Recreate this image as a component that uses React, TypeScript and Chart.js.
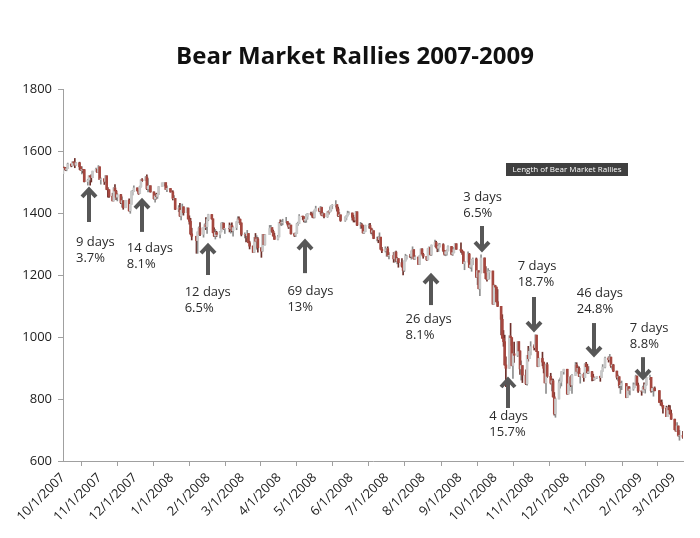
import React, { useEffect, useRef } from "react";
import { Chart, registerables } from "chart.js";
Chart.register(...registerables);

// ---- axis / category data ----
const startDate = "2007-10-01";
const endDate = "2009-03-09";
const tickDates = [
  "2007-10-01", "2007-11-01", "2007-12-01", "2008-01-01", "2008-02-01", "2008-03-01",
  "2008-04-01", "2008-05-01", "2008-06-01", "2008-07-01", "2008-08-01", "2008-09-01",
  "2008-10-01", "2008-11-01", "2008-12-01", "2009-01-01", "2009-02-01", "2009-03-01",
];
const tickLabels = [
  "10/1/2007", "11/1/2007", "12/1/2007", "1/1/2008", "2/1/2008", "3/1/2008",
  "4/1/2008", "5/1/2008", "6/1/2008", "7/1/2008", "8/1/2008", "9/1/2008",
  "10/1/2008", "11/1/2008", "12/1/2008", "1/1/2009", "2/1/2009", "3/1/2009",
];
const yTicks = [600, 800, 1000, 1200, 1400, 1600, 1800];
const holidays = [
  "2007-11-22", "2007-12-25", "2008-01-01", "2008-01-21", "2008-02-18", "2008-03-21",
  "2008-05-26", "2008-07-04", "2008-09-01", "2008-11-27", "2008-12-25", "2009-01-01",
  "2009-01-19", "2009-02-16",
];
const months = [
  "2007-10", "2007-11", "2007-12", "2008-01", "2008-02", "2008-03", "2008-04", "2008-05", "2008-06",
  "2008-07", "2008-08", "2008-09", "2008-10", "2008-11", "2008-12", "2009-01", "2009-02", "2009-03",
];

// ---- daily candles [open, high, low, close], one entry per trading day ----
const oct07 = [
  [1527, 1549, 1527, 1547], [1547, 1548, 1541, 1546], [1546, 1547, 1537, 1540], [1540, 1545, 1536, 1543],
  [1543, 1561, 1543, 1558], [1558, 1558, 1549, 1553], [1553, 1565, 1551, 1565], [1565, 1565, 1555, 1562],
  [1562, 1576, 1546, 1554], [1554, 1563, 1554, 1562], [1562, 1564, 1540, 1549], [1549, 1549, 1537, 1538],
  [1538, 1550, 1526, 1541], [1541, 1541, 1530, 1540], [1540, 1540, 1500, 1501], [1501, 1509, 1490, 1506],
  [1506, 1520, 1504, 1520], [1520, 1520, 1490, 1516], [1516, 1524, 1500, 1514], [1514, 1535, 1514, 1535],
  [1535, 1545, 1535, 1541], [1541, 1541, 1531, 1531], [1531, 1553, 1531, 1549],
];
const nov07 = [
  [1549, 1549, 1508, 1508], [1508, 1513, 1493, 1510], [1510, 1511, 1492, 1502], [1502, 1521, 1499, 1520],
  [1520, 1520, 1475, 1476], [1476, 1482, 1451, 1475], [1475, 1475, 1450, 1454], [1454, 1464, 1439, 1439],
  [1439, 1482, 1439, 1481], [1481, 1492, 1466, 1471], [1471, 1473, 1443, 1451], [1451, 1462, 1439, 1459],
  [1459, 1460, 1430, 1433], [1433, 1452, 1419, 1440], [1440, 1440, 1412, 1417], [1417, 1441, 1417, 1441],
  [1441, 1446, 1406, 1407], [1407, 1429, 1399, 1428], [1428, 1471, 1428, 1469], [1469, 1473, 1458, 1470],
  [1470, 1488, 1470, 1481],
];
const dec07 = [
  [1481, 1481, 1470, 1472], [1472, 1472, 1460, 1463], [1463, 1487, 1463, 1485], [1485, 1508, 1483, 1507],
  [1507, 1511, 1501, 1505], [1505, 1518, 1505, 1516], [1516, 1523, 1475, 1478], [1478, 1511, 1468, 1487],
  [1487, 1489, 1469, 1488], [1488, 1488, 1467, 1468], [1468, 1468, 1445, 1446], [1446, 1461, 1435, 1455],
  [1455, 1464, 1445, 1453], [1453, 1461, 1447, 1460], [1460, 1485, 1460, 1485], [1485, 1497, 1485, 1497],
  [1497, 1499, 1487, 1498], [1498, 1498, 1476, 1476], [1476, 1488, 1469, 1479], [1479, 1479, 1467, 1468],
];
const jan08 = [
  [1468, 1472, 1442, 1447], [1447, 1456, 1443, 1447], [1447, 1447, 1411, 1412], [1412, 1424, 1404, 1416],
  [1416, 1431, 1389, 1390], [1390, 1409, 1378, 1409], [1409, 1429, 1395, 1420], [1420, 1420, 1393, 1401],
  [1401, 1417, 1401, 1416], [1416, 1416, 1380, 1381], [1381, 1391, 1364, 1373], [1373, 1383, 1330, 1333],
  [1333, 1351, 1313, 1325], [1325, 1325, 1270, 1311], [1311, 1339, 1270, 1339], [1339, 1355, 1339, 1352],
  [1352, 1369, 1327, 1331], [1331, 1354, 1322, 1354], [1354, 1365, 1350, 1362], [1362, 1385, 1346, 1356],
  [1356, 1385, 1334, 1379],
];
const feb08 = [
  [1379, 1396, 1375, 1395], [1395, 1395, 1380, 1381], [1381, 1381, 1336, 1337], [1337, 1352, 1324, 1326],
  [1326, 1347, 1316, 1337], [1337, 1341, 1324, 1331], [1331, 1341, 1320, 1339], [1339, 1368, 1339, 1349],
  [1349, 1370, 1349, 1367], [1367, 1368, 1347, 1349], [1349, 1350, 1334, 1350], [1350, 1368, 1339, 1349],
  [1349, 1363, 1335, 1360], [1360, 1368, 1339, 1343], [1343, 1355, 1325, 1353], [1353, 1372, 1346, 1372],
  [1372, 1388, 1368, 1381], [1381, 1388, 1372, 1380], [1380, 1380, 1362, 1368], [1368, 1368, 1326, 1331],
];
const mar08 = [
  [1331, 1336, 1320, 1331], [1331, 1331, 1307, 1327], [1327, 1344, 1320, 1334], [1334, 1334, 1304, 1304],
  [1304, 1309, 1284, 1293], [1293, 1294, 1273, 1273], [1273, 1321, 1273, 1321], [1321, 1334, 1307, 1309],
  [1309, 1327, 1283, 1316], [1316, 1321, 1274, 1288], [1288, 1288, 1257, 1277], [1277, 1331, 1277, 1331],
  [1331, 1331, 1298, 1298], [1298, 1330, 1296, 1330], [1330, 1360, 1330, 1350], [1350, 1360, 1345, 1353],
  [1353, 1353, 1337, 1341], [1341, 1345, 1325, 1326], [1326, 1335, 1315, 1315], [1315, 1328, 1313, 1323],
];
const apr08 = [
  [1323, 1370, 1323, 1370], [1370, 1378, 1361, 1368], [1368, 1376, 1359, 1369], [1369, 1380, 1362, 1370],
  [1370, 1386, 1369, 1373], [1373, 1373, 1361, 1366], [1366, 1368, 1350, 1355], [1355, 1367, 1351, 1361],
  [1361, 1361, 1332, 1333], [1333, 1335, 1324, 1328], [1328, 1336, 1324, 1334], [1334, 1367, 1334, 1365],
  [1365, 1371, 1360, 1366], [1366, 1395, 1366, 1390], [1390, 1390, 1379, 1388], [1388, 1388, 1371, 1376],
  [1376, 1387, 1369, 1380], [1380, 1396, 1370, 1389], [1389, 1399, 1380, 1398], [1398, 1403, 1394, 1396],
  [1396, 1397, 1386, 1391], [1391, 1404, 1384, 1386],
];
const may08 = [
  [1386, 1410, 1384, 1409], [1409, 1422, 1406, 1414], [1414, 1416, 1404, 1407], [1407, 1421, 1397, 1418],
  [1418, 1419, 1391, 1393], [1393, 1402, 1392, 1398], [1398, 1398, 1384, 1388], [1388, 1404, 1386, 1404],
  [1404, 1407, 1396, 1403], [1403, 1420, 1403, 1409], [1409, 1424, 1406, 1424], [1424, 1427, 1414, 1425],
  [1425, 1440, 1419, 1427], [1427, 1427, 1406, 1413], [1413, 1419, 1388, 1391], [1391, 1402, 1390, 1394],
  [1394, 1394, 1373, 1376], [1376, 1388, 1373, 1385], [1385, 1392, 1378, 1391], [1391, 1406, 1390, 1398],
  [1398, 1404, 1396, 1400],
];
const jun08 = [
  [1400, 1400, 1377, 1386], [1386, 1393, 1371, 1378], [1378, 1386, 1371, 1377], [1377, 1405, 1377, 1404],
  [1404, 1404, 1359, 1361], [1361, 1370, 1350, 1362], [1362, 1366, 1351, 1358], [1358, 1361, 1335, 1336],
  [1336, 1354, 1334, 1340], [1340, 1361, 1340, 1360], [1360, 1365, 1351, 1360], [1360, 1367, 1350, 1351],
  [1351, 1351, 1333, 1338], [1338, 1348, 1328, 1343], [1343, 1343, 1317, 1318], [1318, 1322, 1310, 1318],
  [1318, 1323, 1304, 1314], [1314, 1336, 1314, 1322], [1322, 1322, 1283, 1283], [1283, 1289, 1272, 1278],
  [1278, 1291, 1274, 1280],
];
const jul08 = [
  [1280, 1285, 1260, 1285], [1285, 1291, 1261, 1262], [1262, 1272, 1252, 1263], [1263, 1273, 1241, 1252],
  [1252, 1274, 1241, 1274], [1274, 1277, 1244, 1245], [1245, 1257, 1236, 1253], [1253, 1253, 1225, 1240],
  [1240, 1253, 1225, 1228], [1228, 1234, 1200, 1215], [1215, 1246, 1211, 1245], [1245, 1267, 1245, 1260],
  [1260, 1263, 1251, 1261], [1261, 1267, 1256, 1260], [1260, 1278, 1251, 1277], [1277, 1291, 1275, 1282],
  [1282, 1282, 1251, 1253], [1253, 1263, 1250, 1258], [1258, 1258, 1234, 1234], [1234, 1264, 1234, 1263],
  [1263, 1284, 1263, 1284], [1284, 1285, 1265, 1267],
];
const aug08 = [
  [1267, 1270, 1254, 1260], [1260, 1260, 1247, 1249], [1249, 1285, 1249, 1285], [1285, 1291, 1277, 1289],
  [1289, 1289, 1264, 1266], [1266, 1297, 1263, 1296], [1296, 1313, 1292, 1305], [1305, 1309, 1287, 1290],
  [1290, 1294, 1275, 1286], [1286, 1301, 1276, 1293], [1293, 1302, 1290, 1298], [1298, 1301, 1275, 1279],
  [1279, 1279, 1264, 1267], [1267, 1277, 1262, 1275], [1275, 1281, 1264, 1278], [1278, 1294, 1278, 1292],
  [1292, 1292, 1265, 1267], [1267, 1276, 1263, 1272], [1272, 1289, 1271, 1282], [1282, 1301, 1282, 1301],
  [1301, 1301, 1282, 1283],
];
const sep08 = [
  [1283, 1304, 1273, 1278], [1278, 1280, 1266, 1275], [1275, 1275, 1237, 1237], [1237, 1244, 1217, 1242],
  [1242, 1275, 1242, 1268], [1268, 1270, 1224, 1225], [1225, 1243, 1221, 1232], [1232, 1250, 1212, 1249],
  [1249, 1255, 1233, 1252], [1252, 1255, 1192, 1193], [1193, 1215, 1169, 1214], [1214, 1214, 1155, 1156],
  [1156, 1211, 1133, 1207], [1207, 1265, 1207, 1255], [1255, 1255, 1207, 1207], [1207, 1227, 1187, 1188],
  [1188, 1197, 1180, 1186], [1186, 1221, 1186, 1209], [1209, 1215, 1187, 1213], [1213, 1213, 1106, 1106],
  [1106, 1168, 1106, 1166],
];
const oct08 = [
  [1166, 1167, 1140, 1161], [1161, 1161, 1112, 1114], [1114, 1153, 1098, 1099], [1099, 1099, 1007, 1057],
  [1057, 1072, 996, 996], [996, 1021, 970, 985], [985, 1006, 909, 910], [910, 936, 840, 899],
  [899, 1004, 899, 1003], [1003, 1044, 973, 998], [998, 998, 907, 908], [908, 947, 866, 946],
  [946, 984, 918, 941], [941, 985, 937, 985], [985, 985, 944, 955], [955, 955, 879, 897],
  [897, 923, 861, 908], [908, 908, 853, 877], [877, 894, 846, 849], [849, 941, 845, 941],
  [941, 970, 922, 930], [930, 963, 930, 954], [954, 985, 942, 969],
];
const nov08 = [
  [969, 975, 958, 966], [966, 1007, 966, 1006], [1006, 1006, 953, 953], [953, 953, 904, 905],
  [905, 932, 905, 931], [931, 951, 907, 919], [919, 919, 884, 899], [899, 899, 852, 852],
  [852, 913, 818, 911], [911, 917, 869, 873], [873, 883, 848, 851], [851, 866, 826, 859],
  [859, 864, 806, 807], [807, 821, 748, 752], [752, 801, 741, 800], [800, 862, 800, 852],
  [852, 868, 835, 857], [857, 888, 842, 888], [888, 896, 880, 896],
];
const dec08 = [
  [896, 896, 815, 816], [816, 850, 817, 849], [849, 871, 827, 871], [871, 875, 840, 845],
  [845, 879, 818, 876], [876, 918, 876, 910], [910, 917, 883, 889], [889, 906, 889, 899],
  [899, 904, 872, 874], [874, 882, 851, 880], [880, 884, 857, 869], [869, 914, 869, 913],
  [913, 918, 895, 904], [904, 912, 883, 885], [885, 905, 882, 888], [888, 889, 858, 872],
  [872, 880, 860, 863], [863, 869, 861, 868], [868, 873, 866, 873], [873, 874, 857, 869],
  [869, 891, 869, 891], [891, 911, 889, 903],
];
const jan09 = [
  [903, 935, 900, 932], [932, 936, 919, 927], [927, 944, 925, 935], [935, 935, 902, 907],
  [907, 911, 896, 910], [910, 912, 888, 890], [890, 890, 864, 870], [870, 877, 858, 872],
  [872, 872, 836, 843], [843, 852, 818, 844], [844, 858, 830, 850], [850, 850, 804, 805],
  [805, 841, 805, 840], [840, 840, 817, 828], [828, 839, 813, 832], [832, 852, 828, 837],
  [837, 851, 836, 846], [846, 877, 846, 874], [874, 874, 845, 845], [845, 851, 821, 826],
];
const feb09 = [
  [826, 826, 812, 825], [825, 842, 821, 838], [838, 852, 829, 832], [832, 850, 819, 846],
  [846, 871, 844, 869], [869, 877, 862, 870], [870, 870, 822, 827], [827, 838, 823, 834],
  [834, 835, 809, 835], [835, 839, 826, 827], [827, 827, 789, 789], [789, 796, 780, 788],
  [788, 797, 777, 779], [779, 779, 754, 770], [770, 777, 743, 743], [743, 775, 743, 773],
  [773, 780, 752, 765], [765, 779, 751, 753], [753, 764, 734, 735],
];
const mar09 = [
  [735, 735, 700, 701], [701, 711, 696, 696], [696, 724, 696, 713], [713, 713, 680, 683],
  [683, 699, 667, 683], [683, 696, 673, 677],
];
const monthCandles = [oct07, nov07, dec07, jan08, feb08, mar08, apr08, may08, jun08, jul08, aug08, sep08, oct08, nov08, dec08, jan09, feb09, mar09];

// ---- annotations (anchored in data units) ----
const rallyLabels = [
  ["9 days", "3.7%"], ["14 days", "8.1%"], ["12 days", "6.5%"], ["69 days", "13%"], ["26 days", "8.1%"],
  ["3 days", "6.5%"], ["4 days", "15.7%"], ["7 days", "18.7%"], ["46 days", "24.8%"], ["7 days", "8.8%"],
];
const arrowDates = ["2007-10-23", "2007-12-07", "2008-02-01", "2008-04-23", "2008-08-08", "2008-09-20", "2008-10-12", "2008-11-03", "2008-12-24", "2009-02-03"];
const arrowTips = [1484, 1448, 1303, 1316, 1206, 1274, 871, 1016, 935, 861];
const arrowTails = [1371, 1339, 1200, 1206, 1103, 1358, 771, 1129, 1045, 935];
const labelDates = ["2007-10-12", "2007-11-24", "2008-01-12", "2008-04-08", "2008-07-17", "2008-09-04", "2008-09-26", "2008-10-20", "2008-12-09", "2009-01-23"];
const labelValues = [1306, 1287, 1145, 1148, 1058, 1452, 745, 1229, 1142, 1029];
const legendText = "Length of Bear Market Rallies";
const titleText = "Bear Market Rallies 2007-2009";

// ---- helpers ----
const ms = (s: string) => {
  const [y, m, d] = s.split("-").map(Number);
  return Date.UTC(y, m - 1, d);
};
const dayOf = (s: string) => Math.round((ms(s) - ms(startDate)) / 86400000);

function buildCandles() {
  const out: { x: number; o: number; h: number; l: number; c: number }[] = [];
  const hol = new Set(holidays);
  months.forEach((mk, mi) => {
    const [y, m] = mk.split("-").map(Number);
    const arr = monthCandles[mi];
    let k = 0;
    for (let d = 1; d <= 31 && k < arr.length; d++) {
      const dt = new Date(Date.UTC(y, m - 1, d));
      if (dt.getUTCMonth() !== m - 1) break;
      const wd = dt.getUTCDay();
      const key = `${y}-${String(m).padStart(2, "0")}-${String(d).padStart(2, "0")}`;
      if (wd === 0 || wd === 6 || hol.has(key)) continue;
      const [o, h, l, c] = arr[k++];
      out.push({ x: dayOf(key), o, h: Math.max(h, o, c), l: Math.min(l, o, c), c });
    }
  });
  return out;
}

const UP_BODY = "#c9c9c9";
const DOWN_BODY = "#a5473f";
const UP_WICK = "#8d8d8d";
const DOWN_WICK = "#6e2f2a";
const FONT = '"Open Sans", "DejaVu Sans", sans-serif';

export default function App() {
  const ref = useRef<HTMLCanvasElement | null>(null);
  useEffect(() => {
    document.body.style.margin = "0";
    const canvas = ref.current!;
    const candles = buildCandles();
    const tickVals = tickDates.map(dayOf);

    const overlay = {
      id: "overlay",
      afterDraw(chart: any) {
        const { ctx, scales, chartArea } = chart;
        const xs = scales.x, ys = scales.y;
        ctx.save();
        // title
        ctx.fillStyle = "#111";
        ctx.font = `bold 24px ${FONT}`;
        ctx.textAlign = "center";
        ctx.textBaseline = "middle";
        ctx.fillText(titleText, 355, 57);
        // arrows and labels
        ctx.strokeStyle = "#575757";
        ctx.lineWidth = 4;
        ctx.lineJoin = "miter";
        ctx.lineCap = "butt";
        arrowDates.forEach((ad, i) => {
          const x = Math.round(xs.getPixelForValue(dayOf(ad)));
          const tip = ys.getPixelForValue(arrowTips[i]);
          const tail = ys.getPixelForValue(arrowTails[i]);
          const dir = tail > tip ? 1 : -1;
          ctx.beginPath();
          ctx.moveTo(x, tip + dir * 3);
          ctx.lineTo(x, tail);
          ctx.stroke();
          ctx.beginPath();
          ctx.moveTo(x - 7, tip + dir * 10);
          ctx.lineTo(x, tip + dir * 2.5);
          ctx.lineTo(x + 7, tip + dir * 10);
          ctx.stroke();
          const lx = xs.getPixelForValue(dayOf(labelDates[i]));
          const ly = ys.getPixelForValue(labelValues[i]);
          ctx.fillStyle = "#2b2b2b";
          ctx.font = `13px ${FONT}`;
          ctx.textAlign = "left";
          ctx.textBaseline = "middle";
          rallyLabels[i].forEach((t, j) => ctx.fillText(t, lx, ly + j * 16));
        });
        // legend box
        const bx = chartArea.right - 177;
        const by = chartArea.top + 74;
        ctx.fillStyle = "#3f3f3f";
        ctx.fillRect(bx, by, 122, 13);
        ctx.fillStyle = "#ffffff";
        ctx.font = `8px ${FONT}`;
        ctx.textAlign = "center";
        ctx.textBaseline = "middle";
        ctx.fillText(legendText, bx + 61, by + 6.5);
        ctx.restore();
      },
    };

    const chart = new Chart(canvas, {
      type: "bar",
      data: {
        datasets: [
          {
            label: "body",
            data: candles.map((c) => ({ x: c.x, y: [c.o, c.c] })) as any,
            backgroundColor: candles.map((c) => (c.c >= c.o ? UP_BODY : DOWN_BODY)),
            barThickness: 2,
            grouped: false,
            borderWidth: 0,
          },
          {
            label: "wick",
            data: candles.map((c) => ({ x: c.x, y: [c.l, c.h] })) as any,
            backgroundColor: candles.map((c) => (c.c >= c.o ? UP_WICK : DOWN_WICK)),
            barThickness: 1,
            grouped: false,
            borderWidth: 0,
          },
        ],
      },
      options: {
        responsive: false,
        animation: false,
        events: [],
        layout: { padding: { left: 8, right: 17, top: 89, bottom: 0 } },
        plugins: { legend: { display: false }, tooltip: { enabled: false }, title: { display: false } },
        scales: {
          x: {
            type: "linear",
            offset: false,
            min: 0,
            max: dayOf(endDate),
            afterBuildTicks: (s: any) => {
              s.ticks = tickVals.map((v) => ({ value: v }));
            },
            afterFit: (s: any) => {
              s.height = 77;
            },
            ticks: {
              autoSkip: false,
              minRotation: 45,
              maxRotation: 45,
              padding: 4,
              color: "#222",
              font: { family: FONT, size: 13 },
              callback: (v: any) => {
                const i = tickVals.indexOf(Number(v));
                return i >= 0 ? tickLabels[i] : "";
              },
            },
            grid: { drawOnChartArea: false, drawTicks: true, tickLength: 5, color: "#a0a0a0" },
            border: { display: true, color: "#a0a0a0" },
          },
          y: {
            min: 600,
            max: 1800,
            afterBuildTicks: (s: any) => {
              s.ticks = yTicks.map((v) => ({ value: v }));
            },
            afterFit: (s: any) => {
              s.width = 55;
            },
            ticks: {
              padding: 6,
              color: "#222",
              font: { family: FONT, size: 13 },
              callback: (v: any) => String(v),
            },
            grid: { drawOnChartArea: false, drawTicks: true, tickLength: 5, color: "#a0a0a0" },
            border: { display: true, color: "#a0a0a0" },
          },
        },
      },
      plugins: [overlay],
    });
    return () => chart.destroy();
  }, []);
  return <canvas ref={ref} width={700} height={538} style={{ display: "block" }} />;
}
